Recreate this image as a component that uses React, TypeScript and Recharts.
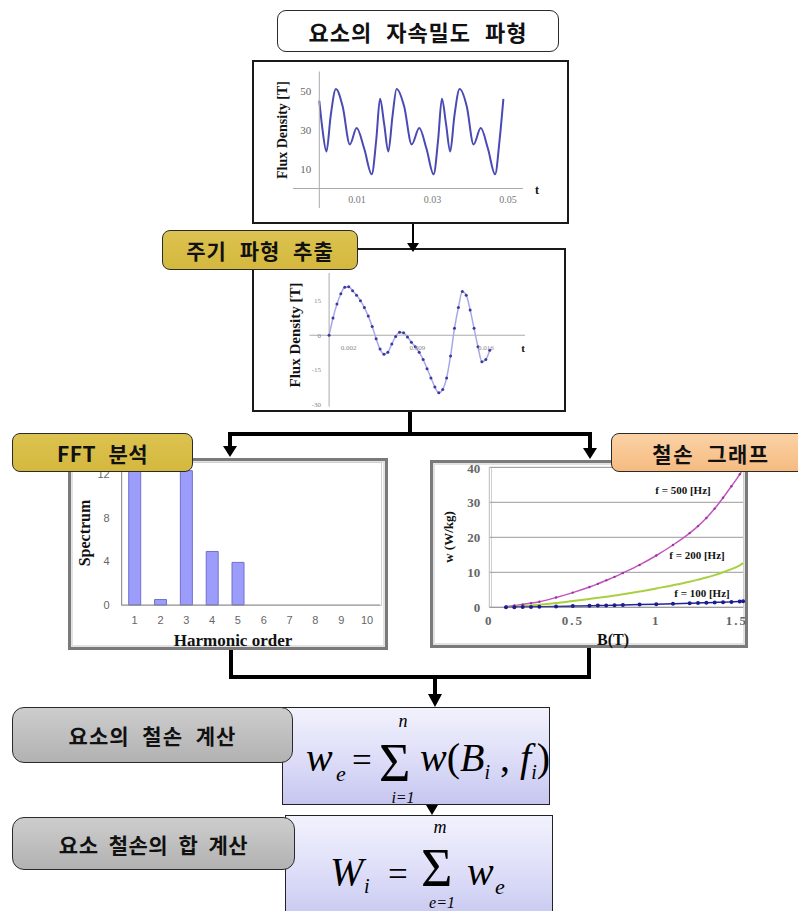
import React from 'react';
import {
  LineChart,
  Line,
  BarChart,
  Bar,
  XAxis,
  YAxis,
  CartesianGrid,
  ReferenceLine,
} from 'recharts';

// element flux density waveform (top chart)
const fluxTime = [
  0, 0.0008, 0.0019, 0.003, 0.0044, 0.0062, 0.0081, 0.0099, 0.0119, 0.0139, 0.0151, 0.0161,
  0.0172, 0.0183, 0.0194, 0.0205, 0.0225, 0.0245, 0.0265, 0.0284, 0.0303, 0.0315, 0.0325,
  0.0336, 0.0347, 0.0358, 0.0372, 0.0391, 0.0409, 0.0428, 0.0447, 0.0466, 0.0478, 0.0488,
];
const fluxValue = [
  45, 31, 19, 37, 51, 42, 22.6, 31, 20.5, 7.3, 25, 46, 33, 19, 37, 51, 42, 22.6, 31, 20.5, 7.3,
  25, 46, 33, 19, 37, 51, 42, 22.6, 31, 20.5, 7.3, 25, 46,
];
const fluxTicksX = [0.01, 0.03, 0.05];
const fluxTicksY = [10, 30, 50];

// one extracted period
const periodTime = [
  0, 0.0004, 0.0008, 0.0012, 0.0016, 0.002, 0.0024, 0.0028, 0.0032, 0.0036, 0.004, 0.0044,
  0.0048, 0.0052, 0.0056, 0.006, 0.0064, 0.0068, 0.0072, 0.0076, 0.008, 0.0084, 0.0088, 0.0092,
  0.0096, 0.01, 0.0104, 0.0108, 0.0112, 0.0116, 0.012, 0.0124, 0.0128, 0.0132, 0.0136, 0.014,
  0.0144, 0.0148, 0.0152, 0.0156, 0.016, 0.0164,
];
const periodValue = [
  0, 7.5, 13.5, 18, 20.8, 21, 19.3, 17.4, 15, 12, 8.3, 3.8, -1.5, -6, -8.2, -7.4, -3.8, -0.5,
  1.3, 1.1, -0.8, -3, -5, -7.4, -10.5, -14.5, -18.5, -22.5, -25, -23.5, -18.5, -9, 3, 12, 19,
  17.4, 11, 3, -5, -11.5, -10.5, -6.5,
];
const periodTicksX = [0.002, 0.009, 0.016];
const periodTicksY = [-30, -15, 0, 15];

// FFT spectrum
const harmonicOrder = [1, 2, 3, 4, 5, 6, 7, 8, 9, 10];
const spectrum = [12.3, 0.5, 12.3, 4.9, 3.9, 0, 0, 0, 0, 0];

// iron loss curves
const lossB = [
  0.1, 0.15, 0.2, 0.25, 0.3, 0.4, 0.5, 0.6, 0.65, 0.7, 0.75, 0.8, 0.9, 1.0, 1.1, 1.2, 1.25, 1.3,
  1.35, 1.4, 1.45, 1.5, 1.52,
];
const loss100 = [
  0.02, 0.05, 0.08, 0.12, 0.16, 0.25, 0.35, 0.45, 0.5, 0.55, 0.6, 0.66, 0.78, 0.9, 1.02, 1.15,
  1.22, 1.3, 1.38, 1.46, 1.55, 1.65, 1.7,
];
const loss200 = [
  0.05, 0.15, 0.3, 0.5, 0.7, 1.2, 1.8, 2.4, 2.7, 3.0, 3.35, 3.7, 4.5, 5.4, 6.3, 7.3, 7.9, 8.5,
  9.2, 10, 10.9, 12, 12.6,
];
const loss500 = [
  0.2, 0.5, 0.8, 1.2, 1.6, 2.8, 4.2, 5.8, 6.7, 7.7, 8.7, 9.8, 12.1, 14.8, 17.8, 21.2, 23.2, 25.5,
  28.2, 31.3, 34.6, 38, 39.6,
];

const fluxData = fluxTime.map((t, i) => ({ t, b: fluxValue[i] }));
const periodData = periodTime.map((t, i) => ({ t, b: periodValue[i] }));
const fftData = harmonicOrder.map((h, i) => ({ h, s: spectrum[i] }));
const lossData = lossB.map((b, i) => ({ b, f100: loss100[i], f200: loss200[i], f500: loss500[i] }));

const KR = '"Noto Sans CJK KR", "Noto Sans", sans-serif';
const SERIF = '"Liberation Serif", "DejaVu Serif", serif';

const abs = (left: number, top: number, width?: number, height?: number): React.CSSProperties => ({
  position: 'absolute',
  left,
  top,
  width,
  height,
  boxSizing: 'border-box',
});

function Tag({ left, top, width, height, bg, text, size = 21, ls = 1, ws = 7, radius = 8 }: any) {
  return (
    <div
      style={{
        ...abs(left, top, width, height),
        background: bg,
        border: '1.5px solid #2a2a2a',
        borderRadius: radius,
        display: 'flex',
        alignItems: 'center',
        justifyContent: 'center',
        fontFamily: KR,
        fontWeight: 700,
        fontSize: size,
        letterSpacing: ls,
        wordSpacing: ws,
        color: '#111',
        whiteSpace: 'nowrap',
      }}
    >
      {text}
    </div>
  );
}

function Caption({ x, y, size, rotate = false, children, weight = 700 }: any) {
  return (
    <div
      style={{
        position: 'absolute',
        left: x,
        top: y,
        transform: `translate(-50%, -50%)${rotate ? ' rotate(-90deg)' : ''}`,
        fontFamily: SERIF,
        fontWeight: weight,
        fontSize: size,
        color: '#111',
        whiteSpace: 'nowrap',
        lineHeight: 1,
      }}
    >
      {children}
    </div>
  );
}

const chartFrame: React.CSSProperties = { border: '2px solid #1a1a1a', background: '#fff' };
const excelFrame: React.CSSProperties = {
  border: '3px solid #7a7a7a',
  boxShadow: 'inset 0 0 0 2px #e2e2e2',
  background: '#fff',
};
const formulaBg = 'linear-gradient(180deg, #f2f2fd 0%, #dcdcf8 55%, #c6c6f0 100%)';
const goldBg = 'linear-gradient(180deg, #dcc250 0%, #d4b83e 100%)';
const grayBg = 'linear-gradient(180deg, #cdcdcd 0%, #b2b2b2 100%)';

export default function App() {
  return (
    <div style={{ ...abs(0, 0, 798, 911), background: '#fff', overflow: 'hidden' }}>
      {/* chart frames */}
      <div style={{ ...abs(252, 60, 317, 164), ...chartFrame }} />
      <div style={{ ...abs(252, 248, 314, 164), ...chartFrame }} />
      <div style={{ ...abs(68, 458, 320, 192), ...excelFrame }} />
      <div style={{ ...abs(430, 460, 318, 188), ...excelFrame }} />
      <div style={{ ...abs(491, 467, 253, 141), border: '1px solid #cfcfcf' }} />
      <div style={{ ...abs(121, 462, 261, 144), border: '1px solid #d0d0d0' }} />

      {/* 1. element flux density waveform */}
      <div style={abs(252, 60)}>
        <LineChart width={317} height={164} data={fluxData} margin={{ top: 11.5, right: 46, bottom: 0, left: 37.3 }}>
          <XAxis
            type="number"
            dataKey="t"
            domain={[0, 0.054]}
            ticks={fluxTicksX}
            height={16}
            axisLine={false}
            tickLine={false}
            tick={{ fontSize: 10, fill: '#777', fontFamily: SERIF, dy: -20 }}
          />
          <YAxis
            type="number"
            domain={[-10, 60]}
            ticks={fluxTicksY}
            width={30}
            axisLine={{ stroke: '#aaa' }}
            tickLine={false}
            tick={{ fontSize: 11, fill: '#666', fontFamily: SERIF }}
          />
          <ReferenceLine
            segment={[{ x: -0.007, y: 0 }, { x: 0.054, y: 0 }]}
            stroke="#aaa"
            ifOverflow="visible"
          />
          <Line type="monotone" dataKey="b" stroke="#4a4ab4" strokeWidth={2} dot={false} isAnimationActive={false} />
        </LineChart>
      </div>
      <Caption x={283} y={130} size={14} rotate>Flux Density [T]</Caption>
      <Caption x={537} y={190} size={12}>t</Caption>

      {/* 2. extracted period */}
      <div style={abs(252, 248)}>
        <LineChart width={314} height={164} data={periodData} margin={{ top: 25, right: 41, bottom: 0.3, left: 47.1 }}>
          <XAxis
            type="number"
            dataKey="t"
            domain={[0, 0.02]}
            ticks={periodTicksX}
            height={5}
            axisLine={false}
            tickLine={false}
            tick={{ fontSize: 7, fill: '#888', fontFamily: SERIF, dy: -70 }}
          />
          <YAxis
            type="number"
            domain={[-31, 27]}
            ticks={periodTicksY}
            width={30}
            axisLine={{ stroke: '#aaa' }}
            tickLine={false}
            tick={{ fontSize: 7, fill: '#888', fontFamily: SERIF }}
          />
          <ReferenceLine
            segment={[{ x: -0.002, y: 0 }, { x: 0.02, y: 0 }]}
            stroke="#aaa"
            ifOverflow="visible"
          />
          <Line
            type="monotone"
            dataKey="b"
            stroke="#a8a8e8"
            strokeWidth={1.5}
            dot={{ r: 1.5, fill: '#3a3aa0', stroke: 'none' }}
            isAnimationActive={false}
          />
        </LineChart>
      </div>
      <Caption x={295} y={335} size={15} rotate>Flux Density [T]</Caption>
      <Caption x={523} y={348} size={11}>t</Caption>

      {/* 3. FFT spectrum */}
      <div style={abs(69, 458)}>
        <BarChart width={319} height={192} data={fftData} margin={{ top: 5, right: 8, bottom: 23, left: 22.7 }} barSize={12}>
          <XAxis
            dataKey="h"
            height={22}
            axisLine={{ stroke: '#888' }}
            tickLine={false}
            tickMargin={5}
            tick={{ fontSize: 11, fill: '#666', fontFamily: '"Liberation Sans", sans-serif' }}
          />
          <YAxis
            type="number"
            domain={[0, 13]}
            ticks={[0, 4, 8, 12]}
            width={30}
            axisLine={{ stroke: '#888' }}
            tickLine={false}
            tickMargin={6}
            tick={{ fontSize: 11, fill: '#666', fontFamily: '"Liberation Sans", sans-serif' }}
          />
          <Bar dataKey="s" fill="#9c9cfa" stroke="#7070d0" strokeWidth={1} isAnimationActive={false} />
        </BarChart>
      </div>
      <Caption x={85} y={533} size={16} rotate>Spectrum</Caption>
      <Caption x={233} y={640} size={17}>Harmonic order</Caption>

      {/* 4. iron loss graph */}
      <div style={abs(430, 460)}>
        <LineChart width={318} height={188} data={lossData} margin={{ top: 7.3, right: 4.9, bottom: 18.7, left: 19.3 }}>
          <CartesianGrid vertical={false} stroke="#9a9a9a" />
          <XAxis
            type="number"
            dataKey="b"
            domain={[0, 1.52]}
            ticks={[0, 0.5, 1, 1.5]}
            height={22}
            axisLine={{ stroke: '#999' }}
            tickLine={false}
            tick={{ fontSize: 13, fill: '#666', fontFamily: SERIF, fontWeight: 700, letterSpacing: 2 }}
          />
          <YAxis
            type="number"
            domain={[0, 40]}
            ticks={[0, 10, 20, 30, 40]}
            width={40}
            axisLine={{ stroke: '#bbb' }}
            tickLine={false}
            tickMargin={3}
            tick={{ fontSize: 13, fill: '#666', fontFamily: SERIF, fontWeight: 700 }}
          />
          <Line
            type="monotone"
            dataKey="f500"
            stroke="#c055c0"
            strokeWidth={1.5}
            dot={{ r: 1.2, fill: '#a030a0', stroke: 'none' }}
            isAnimationActive={false}
          />
          <Line type="monotone" dataKey="f200" stroke="#a8d040" strokeWidth={2} dot={false} isAnimationActive={false} />
          <Line
            type="monotone"
            dataKey="f100"
            stroke="#23239a"
            strokeWidth={1.5}
            dot={{ r: 2, fill: '#1c1c90', stroke: 'none' }}
            isAnimationActive={false}
          />
        </LineChart>
      </div>
      <Caption x={448} y={537} size={13} rotate>w (W/kg)</Caption>
      <Caption x={613} y={640} size={16}>B(T)</Caption>
      <Caption x={683} y={490} size={11}>f = 500 [Hz]</Caption>
      <Caption x={697} y={555} size={11}>f = 200 [Hz]</Caption>
      <Caption x={702} y={593} size={11}>f = 100 [Hz]</Caption>

      {/* formula boxes */}
      <div style={{ ...abs(282, 707, 268, 98), border: '1.5px solid #222', background: formulaBg }} />
      <div style={{ ...abs(285, 815, 268, 110), border: '1.5px solid #222', background: formulaBg }} />

      {/* connectors + formulas */}
      <svg width={798} height={911} style={{ position: 'absolute', left: 0, top: 0, pointerEvents: 'none' }}>
        <g stroke="#000" fill="none" strokeWidth={2}>
          <line x1={413} y1={224} x2={413} y2={244} />
        </g>
        <g stroke="#000" fill="none" strokeWidth={4}>
          <line x1={410} y1={412} x2={410} y2={434} />
          <line x1={228} y1={434} x2={592} y2={434} />
          <line x1={230} y1={432} x2={230} y2={448} />
          <line x1={590} y1={432} x2={590} y2={450} />
          <line x1={231} y1={650} x2={231} y2={679} />
          <line x1={589} y1={648} x2={589} y2={679} />
          <line x1={229} y1={677} x2={591} y2={677} />
          <line x1={435} y1={677} x2={435} y2={696} />
        </g>
        <g fill="#000">
          <polygon points="407,243 419,243 413,252" />
          <polygon points="223,446 237,446 230,457" />
          <polygon points="583,448 597,448 590,459" />
          <polygon points="428,694 442,694 435,707" />
          <polygon points="426,805 438,805 432,815" />
        </g>
        <g fontFamily={SERIF} fill="#000">
          <text x={306} y={771} fontSize={40} fontStyle="italic">w</text>
          <text x={336} y={781} fontSize={22} fontStyle="italic">e</text>
          <text x={352} y={772} fontSize={35}>=</text>
          <text x={379} y={781} fontSize={54}>Σ</text>
          <text x={403} y={727} fontSize={18} fontStyle="italic" textAnchor="middle">n</text>
          <text x={403} y={803} fontSize={16} fontStyle="italic" textAnchor="middle">i=1</text>
          <text x={420} y={771} fontSize={40}>
            <tspan fontStyle="italic">w</tspan>
            <tspan>(</tspan>
            <tspan fontStyle="italic">B</tspan>
            <tspan fontSize={20} fontStyle="italic" dy={8}>i</tspan>
            <tspan dy={-8}> , </tspan>
            <tspan fontStyle="italic">f</tspan>
            <tspan fontSize={20} fontStyle="italic" dy={8}>i</tspan>
            <tspan dy={-8}>)</tspan>
          </text>

          <text x={330} y={885} fontSize={40} fontStyle="italic">W</text>
          <text x={364} y={893} fontSize={20} fontStyle="italic">i</text>
          <text x={388} y={886} fontSize={35}>=</text>
          <text x={421} y={886} fontSize={54}>Σ</text>
          <text x={440} y={833} fontSize={18} fontStyle="italic" textAnchor="middle">m</text>
          <text x={442} y={908} fontSize={16} fontStyle="italic" textAnchor="middle">e=1</text>
          <text x={467} y={885} fontSize={40} fontStyle="italic">w</text>
          <text x={495} y={894} fontSize={22} fontStyle="italic">e</text>
        </g>
      </svg>

      {/* step tags */}
      <Tag left={277} top={10} width={282} height={42} bg="#fff" text="요소의 자속밀도 파형" size={22} ls={1} ws={8} radius={9} />
      <Tag left={162} top={230} width={196} height={40} bg={goldBg} text="주기 파형 추출" />
      <Tag left={12} top={433} width={181} height={39} bg={goldBg} text="FFT 분석" ls={0.5} />
      <Tag
        left={611}
        top={433}
        width={200}
        height={39}
        bg="linear-gradient(180deg, #fbd2a6 0%, #f5bb80 100%)"
        text="철손 그래프"
        ls={1.5}
      />
      <Tag left={12} top={707} width={281} height={56} bg={grayBg} text="요소의 철손 계산" radius={12} />
      <Tag left={12} top={817} width={283} height={53} bg={grayBg} text="요소 철손의 합 계산" ls={0.5} ws={5} radius={12} />
    </div>
  );
}
